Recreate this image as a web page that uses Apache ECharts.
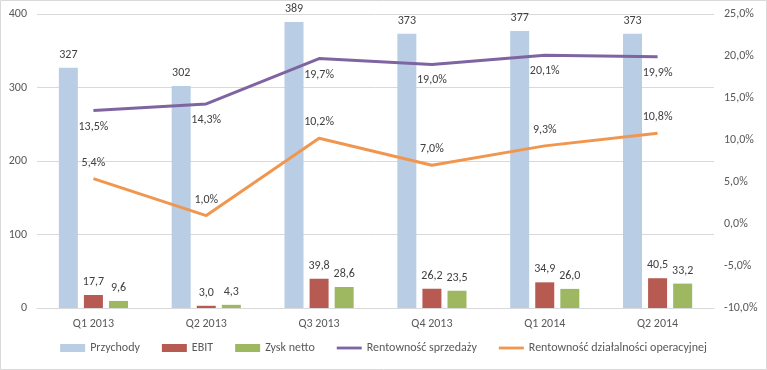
<!DOCTYPE html>
<html><head><meta charset="utf-8">
<script src="https://cdn.jsdelivr.net/npm/echarts@6/dist/echarts.min.js"></script>
<style>html,body{margin:0;padding:0;background:#fff}#c{width:767px;height:370px}</style>
</head><body><div id="c"></div>
<script>
const categories = ['Q1 2013','Q2 2013','Q3 2013','Q4 2013','Q1 2014','Q2 2014'];
const przychody = [327, 302, 389, 373, 377, 373];
const ebit = [17.7, 3.0, 39.8, 26.2, 34.9, 40.5];
const zysk = [9.6, 4.3, 28.6, 23.5, 26.0, 33.2];
const rentSprzedazy = [13.5, 14.3, 19.7, 19.0, 20.1, 19.9];
const rentOperacyjna = [5.4, 1.0, 10.2, 7.0, 9.3, 10.8];
const leftTicks = {min: 0, max: 400, interval: 100};
const rightTicks = {min: -10, max: 25, interval: 5};

const font = 'Calibri, Carlito, Lato, "Liberation Sans", sans-serif';
const txt = '#404040';
const fmt1 = v => v.toFixed(1).replace('.', ',');
const lineIcon = 'path://M0,0L0,0M0,2.6H25V5.4H0ZM25,8L25,8';
const chart = echarts.init(document.getElementById('c'));
const barLabel = (fmtFn) => ({show: true, position: 'top', distance: 7, color: txt, fontSize: 12, fontFamily: font, formatter: p => fmtFn(p.value)});
chart.setOption({
  animation: false,
  textStyle: {fontFamily: font},
  grid: {left: 37, right: 53, top: 14, bottom: 62},
  legend: {
    bottom: 11, left: 'center', itemWidth: 25, itemHeight: 8, itemGap: 22,
    textStyle: {color: '#595959', fontSize: 12, fontFamily: font},
    data: [
      {name: 'Przychody', icon: 'rect'}, {name: 'EBIT', icon: 'rect'}, {name: 'Zysk netto', icon: 'rect'},
      {name: 'Rentowność sprzedaży', icon: lineIcon}, {name: 'Rentowność działalności operacyjnej', icon: lineIcon}
    ]
  },
  xAxis: {
    type: 'category', data: categories,
    axisLine: {lineStyle: {color: '#d9d9d9'}}, axisTick: {show: false},
    axisLabel: {color: '#595959', fontSize: 12, margin: 10, fontFamily: font}
  },
  yAxis: [
    {type: 'value', min: leftTicks.min, max: leftTicks.max, interval: leftTicks.interval,
     axisLabel: {color: '#595959', fontSize: 12, margin: 10, fontFamily: font},
     splitLine: {lineStyle: {color: '#d9d9d9'}}, axisLine: {show: false}, axisTick: {show: false}},
    {type: 'value', min: rightTicks.min, max: rightTicks.max, interval: rightTicks.interval,
     axisLabel: {color: '#595959', fontSize: 12, margin: 10, fontFamily: font, formatter: v => fmt1(v) + '%'},
     splitLine: {show: false}, axisLine: {show: false}, axisTick: {show: false}}
  ],
  series: [
    {name: 'Przychody', type: 'bar', data: przychody, barWidth: 19, barGap: '32%', itemStyle: {color: '#B9CDE5'},
     label: barLabel(v => String(v))},
    {name: 'EBIT', type: 'bar', data: ebit, barWidth: 19, barGap: '32%', itemStyle: {color: '#B65A52'},
     label: barLabel(fmt1)},
    {name: 'Zysk netto', type: 'bar', data: zysk, barWidth: 19, barGap: '32%', itemStyle: {color: '#9EB862'},
     label: barLabel(fmt1)},
    {name: 'Rentowność sprzedaży', type: 'line', yAxisIndex: 1, data: rentSprzedazy,
     symbol: 'circle', symbolSize: 0.01, showSymbol: true,
     lineStyle: {color: '#7F64A2', width: 3}, itemStyle: {color: '#7F64A2'},
     label: {show: true, position: 'bottom', distance: 10, color: txt, fontSize: 12, fontFamily: font, formatter: p => fmt1(p.value) + '%'}},
    {name: 'Rentowność działalności operacyjnej', type: 'line', yAxisIndex: 1, data: rentOperacyjna,
     symbol: 'circle', symbolSize: 0.01, showSymbol: true,
     lineStyle: {color: '#F0964F', width: 3}, itemStyle: {color: '#F0964F'},
     label: {show: true, position: 'top', distance: 10, color: txt, fontSize: 12, fontFamily: font, formatter: p => fmt1(p.value) + '%'}}
  ],
  graphic: [
    {type: 'rect', shape: {x: 0.5, y: 0.5, width: 766, height: 369}, style: {fill: null, stroke: '#d9d9d9', lineWidth: 1}, silent: true}
  ]
});
</script></body></html>
